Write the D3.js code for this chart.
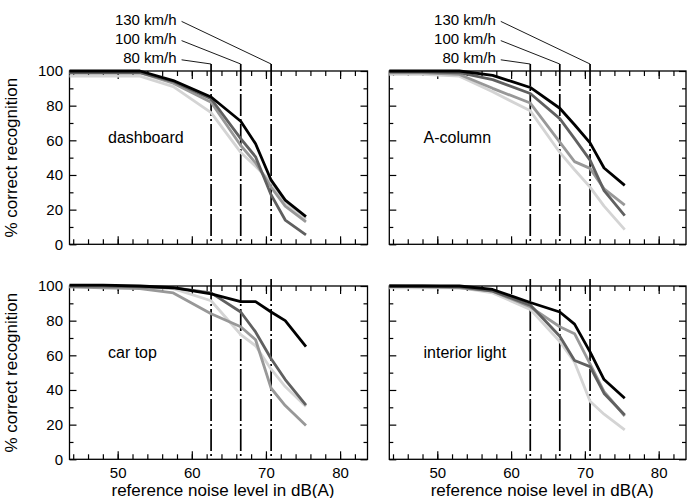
<!DOCTYPE html>
<html>
<head>
<meta charset="utf-8">
<script src="https://cdn.jsdelivr.net/npm/d3@7"></script>
<style>
  body { margin: 0; background: #fff; }
  svg { display: block; font-family: "Liberation Sans", Arial, Helvetica, sans-serif; }
  .tick line { stroke: #000; stroke-width: 1.2; }
  .tick text { font-size: 15px; fill: #000; }
</style>
</head>
<body>
<svg id="chart" width="694" height="498"></svg>
<script>
// noise levels (dB(A)) at which recognition was measured
let noiseLevels = [43.5, 48, 53, 57.5, 62.6, 66.6, 68.6, 70.7, 72.6, 75.4];

// driving speeds, drawn as dashed markers
let speedLevels = [62.6, 66.6, 70.7];
let speedLabels = ['80 km/h', '100 km/h', '130 km/h'];

let panelNames = ['dashboard', 'A-column', 'car top', 'interior light'];

// % correct recognition, one row per series (black, dark, medium, light grey)
let dashboard = [
  [100, 100, 100, 94.5, 85, 71, 58, 37, 25.5, 16],
  [99, 99, 99, 94, 84, 61, 50.5, 28.5, 14, 5.5],
  [99, 99, 99, 93, 82, 57, 47, 33, 22, 13],
  [97, 97, 97, 91, 76, 53, 45, 36, 24, 14.5]
];
let aColumn = [
  [100, 100, 100, 97.5, 90.5, 78.5, 69, 58.5, 44, 34],
  [99.5, 99.5, 99, 95, 87, 72.5, 61, 48.6, 31, 16.5],
  [99, 99, 98, 90, 81.5, 59, 47.7, 43.8, 32, 22.6],
  [98, 98, 97, 88, 77, 53, 43, 33, 22, 8.5]
];
let carTop = [
  [100.5, 100.5, 100, 99, 95.5, 91, 91, 85, 80, 65],
  [100, 100, 99.5, 99, 96, 85, 73.5, 58, 46, 31.3],
  [99.5, 99, 98.5, 96, 84, 76.5, 69, 41, 31, 19.5],
  [99.5, 99.5, 99, 98.5, 91.5, 72, 65.5, 52, 42, 30.5]
];
let interiorLight = [
  [100, 100, 100, 98, 90.5, 85, 78, 62, 46, 35.2],
  [100, 100, 99.5, 97, 89, 71, 57, 53.5, 38, 25.6],
  [100, 99.5, 99, 97, 88, 76.5, 72.5, 55, 39, 25],
  [99, 99, 99, 96, 86.5, 68, 56, 33.5, 26, 17]
];

let xMajor = [50, 60, 70, 80];
let xMinor = d3.range(44, 84, 2);
let yMajor = [0, 20, 40, 60, 80, 100];
let yMinor = [10, 30, 50, 70, 90];

let panelData = [dashboard, aColumn, carTop, interiorLight];
let seriesColors = ['#000000', '#606060', '#989898', '#d4d4d4'];

let svg = d3.select('#chart');

let cols = [[69.5, 367.5], [389.3, 686]];
let rows = [[71, 244.3], [286, 459.3]];
let xDomain = [43.5, 83.7];

let line = (x, y) => d3.line()
  .x((d, i) => x(noiseLevels[i]))
  .y(d => y(d));

panelData.forEach((series, p) => {
  let c = p % 2, r = Math.floor(p / 2);
  let x = d3.scaleLinear().domain(xDomain).range(cols[c]);
  let y = d3.scaleLinear().domain([0, 100]).range([rows[r][1], rows[r][0]]);
  let g = svg.append('g').classed('panel', true);
  let top = rows[r][0], bottom = rows[r][1];

  // ticks, all pointing inwards
  let addAxis = (axis, tx, ty, labels) => {
    let a = g.append('g').attr('transform', `translate(${tx},${ty})`).call(axis);
    a.select('.domain').remove();
    if (!labels) a.selectAll('text').remove();
    return a;
  };
  addAxis(d3.axisBottom(x).tickValues(xMinor).tickSize(-5), 0, bottom, false);
  addAxis(d3.axisTop(x).tickValues(xMinor).tickSize(-5), 0, top, false);
  addAxis(d3.axisTop(x).tickValues(xMajor).tickSize(-8), 0, top, false);
  addAxis(d3.axisBottom(x).tickValues(xMajor).tickSize(-8).tickPadding(8.5), 0, bottom, r == 1);
  addAxis(d3.axisLeft(y).tickValues(yMinor).tickSize(-4), cols[c][0], 0, false);
  addAxis(d3.axisRight(y).tickValues(yMinor).tickSize(-4), cols[c][1], 0, false);
  addAxis(d3.axisRight(y).tickValues(yMajor).tickSize(-7), cols[c][1], 0, false);
  addAxis(d3.axisLeft(y).tickValues(yMajor).tickSize(-7).tickPadding(6.5), cols[c][0], 0, c == 0);

  // frame
  g.append('rect')
    .attr('x', cols[c][0]).attr('y', top)
    .attr('width', cols[c][1] - cols[c][0]).attr('height', bottom - top)
    .attr('fill', 'none').attr('stroke', '#000').attr('stroke-width', 1.3);

  // speed markers
  g.selectAll('line.speed').data(speedLevels).enter()
    .append('line').classed('speed', true)
    .attr('x1', d => x(d)).attr('x2', d => x(d))
    .attr('y1', top - 7).attr('y2', bottom)
    .attr('stroke', '#000').attr('stroke-width', 1.7)
    .attr('stroke-dasharray', '22,3,2,3');

  // series, lightest first
  series.slice().reverse().forEach((vals, k) => {
    g.append('path')
      .attr('d', line(x, y)(vals))
      .attr('fill', 'none')
      .attr('stroke', seriesColors[3 - k])
      .attr('stroke-width', 2.8)
      .attr('stroke-linejoin', 'round');
  });

  g.append('text')
    .attr('x', c == 0 ? 108 : 423.5).attr('y', top + 72)
    .attr('font-size', 16)
    .text(panelNames[p]);

  // speed annotations above the top row
  if (r == 0) {
    let tx = x(speedLevels[0]) - 34.5;
    speedLabels.forEach((s, i) => {
      let by = 63.3 - i * 19.2;
      g.append('text')
        .attr('x', tx).attr('y', by)
        .attr('text-anchor', 'end')
        .attr('font-size', 15)
        .text(s);
      g.append('line')
        .attr('x1', tx + 5).attr('y1', by - 3.5)
        .attr('x2', x(speedLevels[i])).attr('y2', top - 7)
        .attr('stroke', '#000').attr('stroke-width', 0.9);
    });
  }

  if (r == 1) {
    g.append('text')
      .attr('x', (cols[c][0] + cols[c][1]) / 2 + 4.5).attr('y', 495.5)
      .attr('text-anchor', 'middle')
      .attr('font-size', 17)
      .text('reference noise level in dB(A)');
  }
  if (c == 0) {
    g.append('text')
      .attr('transform', `translate(17,${(top + bottom) / 2}) rotate(-90)`)
      .attr('text-anchor', 'middle')
      .attr('font-size', 17)
      .text('% correct recognition');
  }
});
</script>
</body>
</html>
